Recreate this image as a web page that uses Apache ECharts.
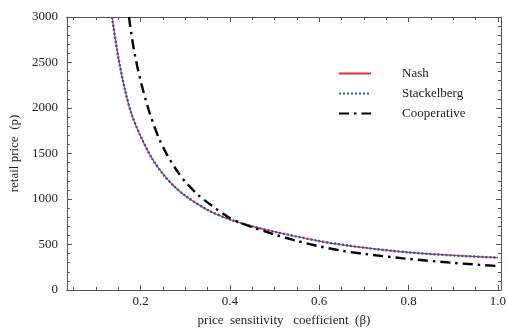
<!DOCTYPE html>
<html>
<head>
<meta charset="utf-8">
<script src="https://cdn.jsdelivr.net/npm/echarts@6/dist/echarts.min.js"></script>
<style>html,body{margin:0;padding:0;background:#fff}#c{width:509px;height:332px}</style>
</head>
<body>
<div id="c"></div>
<script>
const seriesNames = ['Nash', 'Stackelberg', 'Cooperative'];
const nashX = [0.136, 0.15, 0.165, 0.18, 0.2, 0.225, 0.25, 0.275, 0.3, 0.35, 0.4, 0.45, 0.5, 0.6, 0.7, 0.8, 0.9, 1.0];
const nashY = [3000, 2560, 2200, 1930, 1690, 1450, 1275, 1140, 1035, 880, 775, 700, 640, 538, 465, 413, 380, 355];
const stackX = [0.136, 0.15, 0.165, 0.18, 0.2, 0.225, 0.25, 0.275, 0.3, 0.35, 0.4, 0.45, 0.5, 0.6, 0.7, 0.8, 0.9, 1.0];
const stackY = [3000, 2560, 2200, 1930, 1690, 1450, 1275, 1140, 1035, 880, 775, 700, 640, 538, 465, 413, 380, 355];
const coopX = [0.174, 0.185, 0.2, 0.22, 0.24, 0.26, 0.28, 0.3, 0.33, 0.36, 0.4, 0.42, 0.45, 0.5, 0.55, 0.6, 0.65, 0.7, 0.8, 0.9, 1.0];
const coopY = [3000, 2640, 2300, 1950, 1680, 1480, 1320, 1190, 1040, 925, 790, 745, 690, 610, 540, 480, 432, 397, 342, 298, 263];
const xMajorTicks = [0.2, 0.4, 0.6, 0.8, 1.0];
const xMinorTicks = [0.05, 0.1, 0.15, 0.25, 0.3, 0.35, 0.45, 0.5, 0.55, 0.65, 0.7, 0.75, 0.85, 0.9, 0.95];
const yTickInterval = 500;
const yMax = 3000;
const xLabel = 'price  sensitivity   coefficient  (β)';
const yLabel = 'retail price  (p)';

const pairs = (xs, ys) => xs.map((x, i) => [x, ys[i]]);
const font = 'Liberation Serif';
const axisCol = '#555';
const xMin = 0.035, xMax = 1.007;

function xAx(pos, ticks, len, labels, name) {
  return {
    type: 'value', position: pos, min: xMin, max: xMax,
    name: name || '', nameLocation: 'middle', nameGap: 24,
    nameTextStyle: {fontFamily: font, fontSize: 13, color: '#222'},
    axisLine: {show: true, onZero: false, lineStyle: {color: axisCol, width: 1}},
    axisTick: {show: true, inside: true, length: len, customValues: ticks, lineStyle: {color: axisCol}},
    axisLabel: labels ? {show: true, customValues: ticks, margin: 5, fontFamily: font, fontSize: 13, color: '#222',
      formatter: v => v.toFixed(1)} : {show: false},
    splitLine: {show: false}
  };
}
function yAx(pos, labels, name) {
  return {
    type: 'value', position: pos, min: 0, max: yMax, interval: yTickInterval,
    name: name || '', nameLocation: 'middle', nameGap: 40,
    nameTextStyle: {fontFamily: font, fontSize: 13, color: '#222'},
    axisLine: {show: true, onZero: false, lineStyle: {color: axisCol, width: 1}},
    axisTick: {show: true, inside: true, length: 5, lineStyle: {color: axisCol}},
    minorTick: {show: true, splitNumber: 5, length: 3, lineStyle: {color: axisCol}},
    axisLabel: labels ? {show: true, margin: 9, fontFamily: font, fontSize: 13, color: '#222', formatter: v => String(v)} : {show: false},
    splitLine: {show: false}, minorSplitLine: {show: false}
  };
}

const chart = echarts.init(document.getElementById('c'), null, {renderer: 'canvas'});
chart.setOption({
  animation: false,
  backgroundColor: '#fff',
  grid: {left: 65, right: 4, top: 17, bottom: 42, containLabel: false},
  xAxis: [
    xAx('bottom', xMajorTicks, 5, true, xLabel),
    xAx('bottom', xMinorTicks, 3, false),
    xAx('top', xMajorTicks, 5, false),
    xAx('top', xMinorTicks, 3, false)
  ],
  yAxis: [
    yAx('left', true, yLabel),
    yAx('right', false)
  ],
  legend: {
    show: true, orient: 'vertical', left: 333, top: 62, itemWidth: 32, itemHeight: 12, itemGap: 7,
    itemStyle: {opacity: 0},
    textStyle: {fontFamily: font, fontSize: 13, color: '#222', padding: [0, 0, 0, 26]},
    data: seriesNames
  },
  series: [
    {name: seriesNames[0], type: 'line', data: pairs(nashX, nashY), smooth: 0.3, showSymbol: false, symbol: 'none',
      lineStyle: {color: '#f02828', width: 1.2}, itemStyle: {color: '#f02828'}, z: 2},
    {name: seriesNames[1], type: 'line', data: pairs(stackX, stackY), smooth: 0.3, showSymbol: false, symbol: 'none',
      lineStyle: {color: '#2f55b8', width: 2.4, type: [2, 2]}, itemStyle: {color: '#2f55b8'}, z: 3},
    {name: seriesNames[2], type: 'line', data: pairs(coopX, coopY), smooth: 0.3, showSymbol: false, symbol: 'none',
      lineStyle: {color: '#000', width: 2.4, type: [10, 5, 2.5, 5]}, itemStyle: {color: '#000'}, z: 4}
  ]
});
</script>
</body>
</html>
